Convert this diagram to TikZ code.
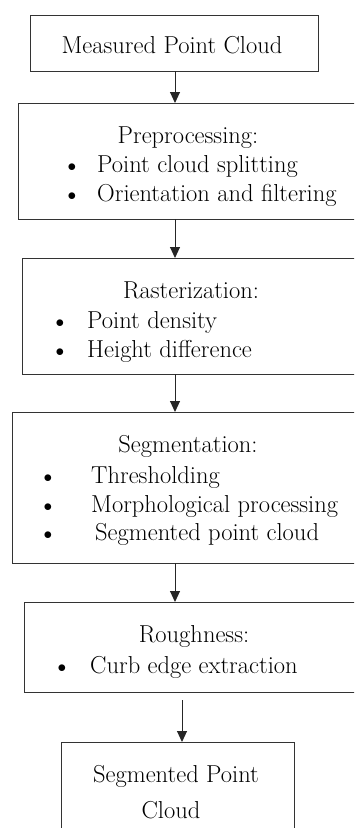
\documentclass[tikz,border=0pt]{standalone}
\usetikzlibrary{arrows.meta}
\begin{document}
\begin{tikzpicture}[x=1pt,y=-1pt,
  box/.style={draw=black!80,line width=1pt,inner sep=0pt,outer sep=0pt},
  txt/.style={font=\fontsize{24.5}{29}\selectfont,inner sep=0pt},
  dot/.style={font=\fontsize{19}{23}\selectfont,inner sep=0pt},
  flow/.style={draw=black!85,line width=1pt,-{Triangle[length=11pt,width=10pt]}}]
\useasboundingbox (0,0) rectangle (354,828);
\clip (0,0) rectangle (354,828);

\node[box,minimum width=288,minimum height=56]  (1) at (174,43)    {};
\node[box,minimum width=352,minimum height=116] (2) at (194,161)   {};
\node[box,minimum width=348,minimum height=116] (3) at (196,316)   {};
\node[box,minimum width=358,minimum height=151] (4) at (191,487.5) {};
\node[box,minimum width=346,minimum height=90]  (5) at (197,647)   {};
\node[box,minimum width=233,minimum height=118] (6) at (177.5,801) {};

\node[txt,anchor=base] (t1) at (172,53) {Measured Point Cloud};

\node[txt,anchor=base]      (t2)  at (188,143) {Preprocessing:};
\node[dot,anchor=base]      (d2a) at (72,171)  {$\bullet$};
\node[txt,anchor=base west] (t2a) at (97,172)  {Point cloud splitting};
\node[dot,anchor=base]      (d2b) at (72,200)  {$\bullet$};
\node[txt,anchor=base west] (t2b) at (97,201)  {Orientation and filtering};

\node[txt,anchor=base]      (t3)  at (191,298) {Rasterization:};
\node[dot,anchor=base]      (d3a) at (60,327)  {$\bullet$};
\node[txt,anchor=base west] (t3a) at (87,328)  {Point density};
\node[dot,anchor=base]      (d3b) at (60,356)  {$\bullet$};
\node[txt,anchor=base west] (t3b) at (87,357)  {Height difference};

\node[txt,anchor=base]      (t4)  at (188,452) {Segmentation:};
\node[dot,anchor=base]      (d4a) at (48,482)  {$\bullet$};
\node[txt,anchor=base west] (t4a) at (91,483)  {Thresholding};
\node[dot,anchor=base]      (d4b) at (48,511)  {$\bullet$};
\node[txt,anchor=base west] (t4b) at (91,512)  {Morphological processing};
\node[dot,anchor=base]      (d4c) at (48,539)  {$\bullet$};
\node[txt,anchor=base west] (t4c) at (95,540)  {Segmented point cloud};

\node[txt,anchor=base]      (t5)  at (194,642) {Roughness:};
\node[dot,anchor=base]      (d5a) at (62,672)  {$\bullet$};
\node[txt,anchor=base west] (t5a) at (90,673)  {Curb edge extraction};

\node[txt,anchor=base] (t6a) at (176,782) {Segmented Point};
\node[txt,anchor=base] (t6b) at (171,818) {Cloud};

% arrows
\coordinate (ax)  at (175,0);
\coordinate (ax2) at (182,0);
\draw[flow] (1.south -| ax) -- (2.north -| ax);
\draw[flow] (2.south -| ax) -- (3.north -| ax);
\draw[flow] (3.south -| ax) -- (4.north -| ax);
\draw[flow] (4.south -| ax) -- (5.north -| ax);
\draw[flow,shorten <=8pt] (5.south -| ax2) -- (6.north -| ax2);
\end{tikzpicture}
\end{document}
